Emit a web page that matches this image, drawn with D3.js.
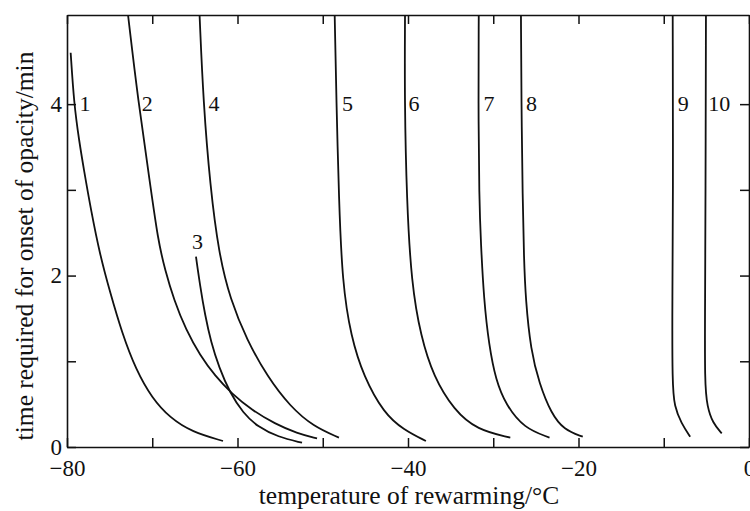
<!DOCTYPE html>
<html>
<head>
<meta charset="utf-8">
<script src="https://cdn.jsdelivr.net/npm/d3@7"></script>
<style>
  body { margin: 0; background: #fff; }
  svg { display: block; }
  text { font-family: "Liberation Serif", "Times New Roman", serif; fill: #111; }
</style>
</head>
<body>
<svg id="chart" width="750" height="511"></svg>
<script>
// opacity onset curves as [temperature °C, time min]
var curve1 = [[-79.57, 4.6], [-79.18, 4.01], [-78.59, 3.58], [-78.01, 3.23], [-77.18, 2.76], [-76.13, 2.24], [-74.96, 1.81], [-73.55, 1.33], [-71.91, 0.9], [-70.03, 0.57], [-67.92, 0.34], [-65.34, 0.175], [-61.7, 0.07]];
var curve2 = [[-72.84, 5.04], [-71.67, 4.05], [-70.26, 3.08], [-69.33, 2.415], [-68.5, 2.065], [-67.45, 1.715], [-66.04, 1.365], [-64.4, 1.07], [-62.64, 0.83], [-60.65, 0.62], [-58.3, 0.43], [-55.6, 0.27], [-53.02, 0.16], [-50.67, 0.1]];
var curve3 = [[-64.87, 2.22], [-64.4, 1.89], [-63.81, 1.54], [-63.11, 1.225], [-62.17, 0.93], [-60.88, 0.63], [-59.35, 0.397], [-57.6, 0.233], [-55.25, 0.117], [-52.43, 0.05]];
var curve4 = [[-64.45, 5.04], [-64.0, 4.01], [-63.2, 3.04], [-62.2, 2.26], [-60.85, 1.72], [-58.9, 1.25], [-56.5, 0.82], [-53.8, 0.47], [-51.1, 0.24], [-48.1, 0.11]];
var curve5 = [[-48.6, 5.04], [-48.4, 4.04], [-48.1, 2.88], [-47.7, 1.91], [-46.7, 1.29], [-45.2, 0.82], [-42.8, 0.39], [-40.5, 0.2], [-37.9, 0.07]];
var curve6 = [[-40.35, 5.04], [-40.4, 4.04], [-40.15, 2.88], [-39.6, 1.91], [-38.5, 1.29], [-37.0, 0.82], [-34.6, 0.43], [-31.9, 0.2], [-28.0, 0.11]];
var curve7 = [[-31.7, 5.04], [-31.75, 4.04], [-31.65, 2.88], [-31.45, 2.38], [-31.1, 1.72], [-30.5, 1.19], [-29.7, 0.78], [-28.5, 0.49], [-26.4, 0.22], [-23.4, 0.11]];
var curve8 = [[-26.75, 5.04], [-26.7, 4.04], [-26.55, 2.88], [-26.4, 2.2], [-26.2, 1.72], [-25.6, 1.13], [-24.6, 0.74], [-23.2, 0.39], [-21.7, 0.2], [-19.5, 0.12]];
var curve9 = [[-8.95, 5.04], [-8.9, 2.88], [-9.0, 1.72], [-9.0, 0.74], [-8.75, 0.47], [-7.95, 0.28], [-6.9, 0.12]];
var curve10 = [[-5.05, 5.04], [-5.1, 2.88], [-5.15, 1.72], [-5.2, 0.74], [-4.9, 0.47], [-4.25, 0.28], [-3.2, 0.16]];

var curves = [curve1, curve2, curve3, curve4, curve5, curve6, curve7, curve8, curve9, curve10];

// curve numbers and where they are written
var labelNames = ["1", "2", "3", "4", "5", "6", "7", "8", "9", "10"];
var labelTemps = [-77.9, -70.6, -64.7, -62.75, -47.1, -39.3, -30.5, -25.5, -7.7, -3.5];
var labelTimes = [4.01, 4.01, 2.4, 4.01, 4.01, 4.01, 4.01, 4.01, 4.01, 4.01];

var xTicks = [-80, -70, -60, -50, -40, -30, -20, -10, 0];
var xLabelled = [-80, -60, -40, -20, 0];
var yTicks = [0, 1, 2, 3, 4];
var yLabelled = [0, 2, 4];

var svg = d3.select("#chart");

var padL = 67, padR = 749, padT = 15, padB = 447;

var x = d3.scaleLinear().domain([-80, 0]).range([padL, padR]);
var y = d3.scaleLinear().domain([0, 5.04]).range([padB, padT]);

var fmt = function(d) { return xLabelled.indexOf(d) >= 0 ? d3.format("d")(d) : ""; };
var fmtY = function(d) { return yLabelled.indexOf(d) >= 0 ? d3.format("d")(d) : ""; };

svg.append("g")
  .attr("transform", "translate(0," + padB + ")")
  .call(d3.axisBottom(x).tickValues(xTicks).tickSizeInner(-9).tickSizeOuter(0).tickPadding(13).tickFormat(fmt));

svg.append("g")
  .attr("transform", "translate(0," + padT + ")")
  .call(d3.axisTop(x).tickValues(xTicks).tickSizeInner(-9).tickSizeOuter(0).tickFormat(""));

svg.append("g")
  .attr("transform", "translate(" + padL + ",0)")
  .call(d3.axisLeft(y).tickValues(yTicks).tickSizeInner(-9).tickSizeOuter(0).tickPadding(5).tickFormat(fmtY));

svg.append("g")
  .attr("transform", "translate(" + padR + ",0)")
  .call(d3.axisRight(y).tickValues(yTicks).tickSizeInner(-9).tickSizeOuter(0).tickFormat(""));

svg.selectAll(".domain").attr("stroke", "#111").attr("stroke-width", 1.6);
svg.selectAll(".tick line").attr("stroke", "#111").attr("stroke-width", 1.5);
svg.selectAll(".tick text")
  .style("font-family", "'Liberation Serif', serif")
  .style("font-size", "23px")
  .attr("fill", "#111");

// basis spline smooths out small reading errors between points
var line = d3.line()
  .x(function(d) { return x(d[0]); })
  .y(function(d) { return y(d[1]); })
  .curve(d3.curveBasis);

svg.append("g")
  .selectAll("path")
  .data(curves)
  .enter().append("path")
  .attr("d", line)
  .attr("fill", "none")
  .attr("stroke", "#111")
  .attr("stroke-width", 1.8);

svg.append("g")
  .selectAll("text")
  .data(labelNames)
  .enter().append("text")
  .attr("x", function(d, i) { return x(labelTemps[i]); })
  .attr("y", function(d, i) { return y(labelTimes[i]); })
  .attr("dy", "0.35em")
  .attr("text-anchor", "middle")
  .style("font-size", "22px")
  .text(function(d) { return d; });

svg.append("text")
  .attr("x", (padL + padR) / 2 + 1)
  .attr("y", 504)
  .attr("text-anchor", "middle")
  .style("font-size", "25.5px")
  .text("temperature of rewarming/°C");

svg.append("text")
  .attr("transform", "translate(33," + 246 + ") rotate(-90)")
  .attr("text-anchor", "middle")
  .style("font-size", "25.5px")
  .text("time required for onset of opacity/min");
</script>
</body>
</html>
